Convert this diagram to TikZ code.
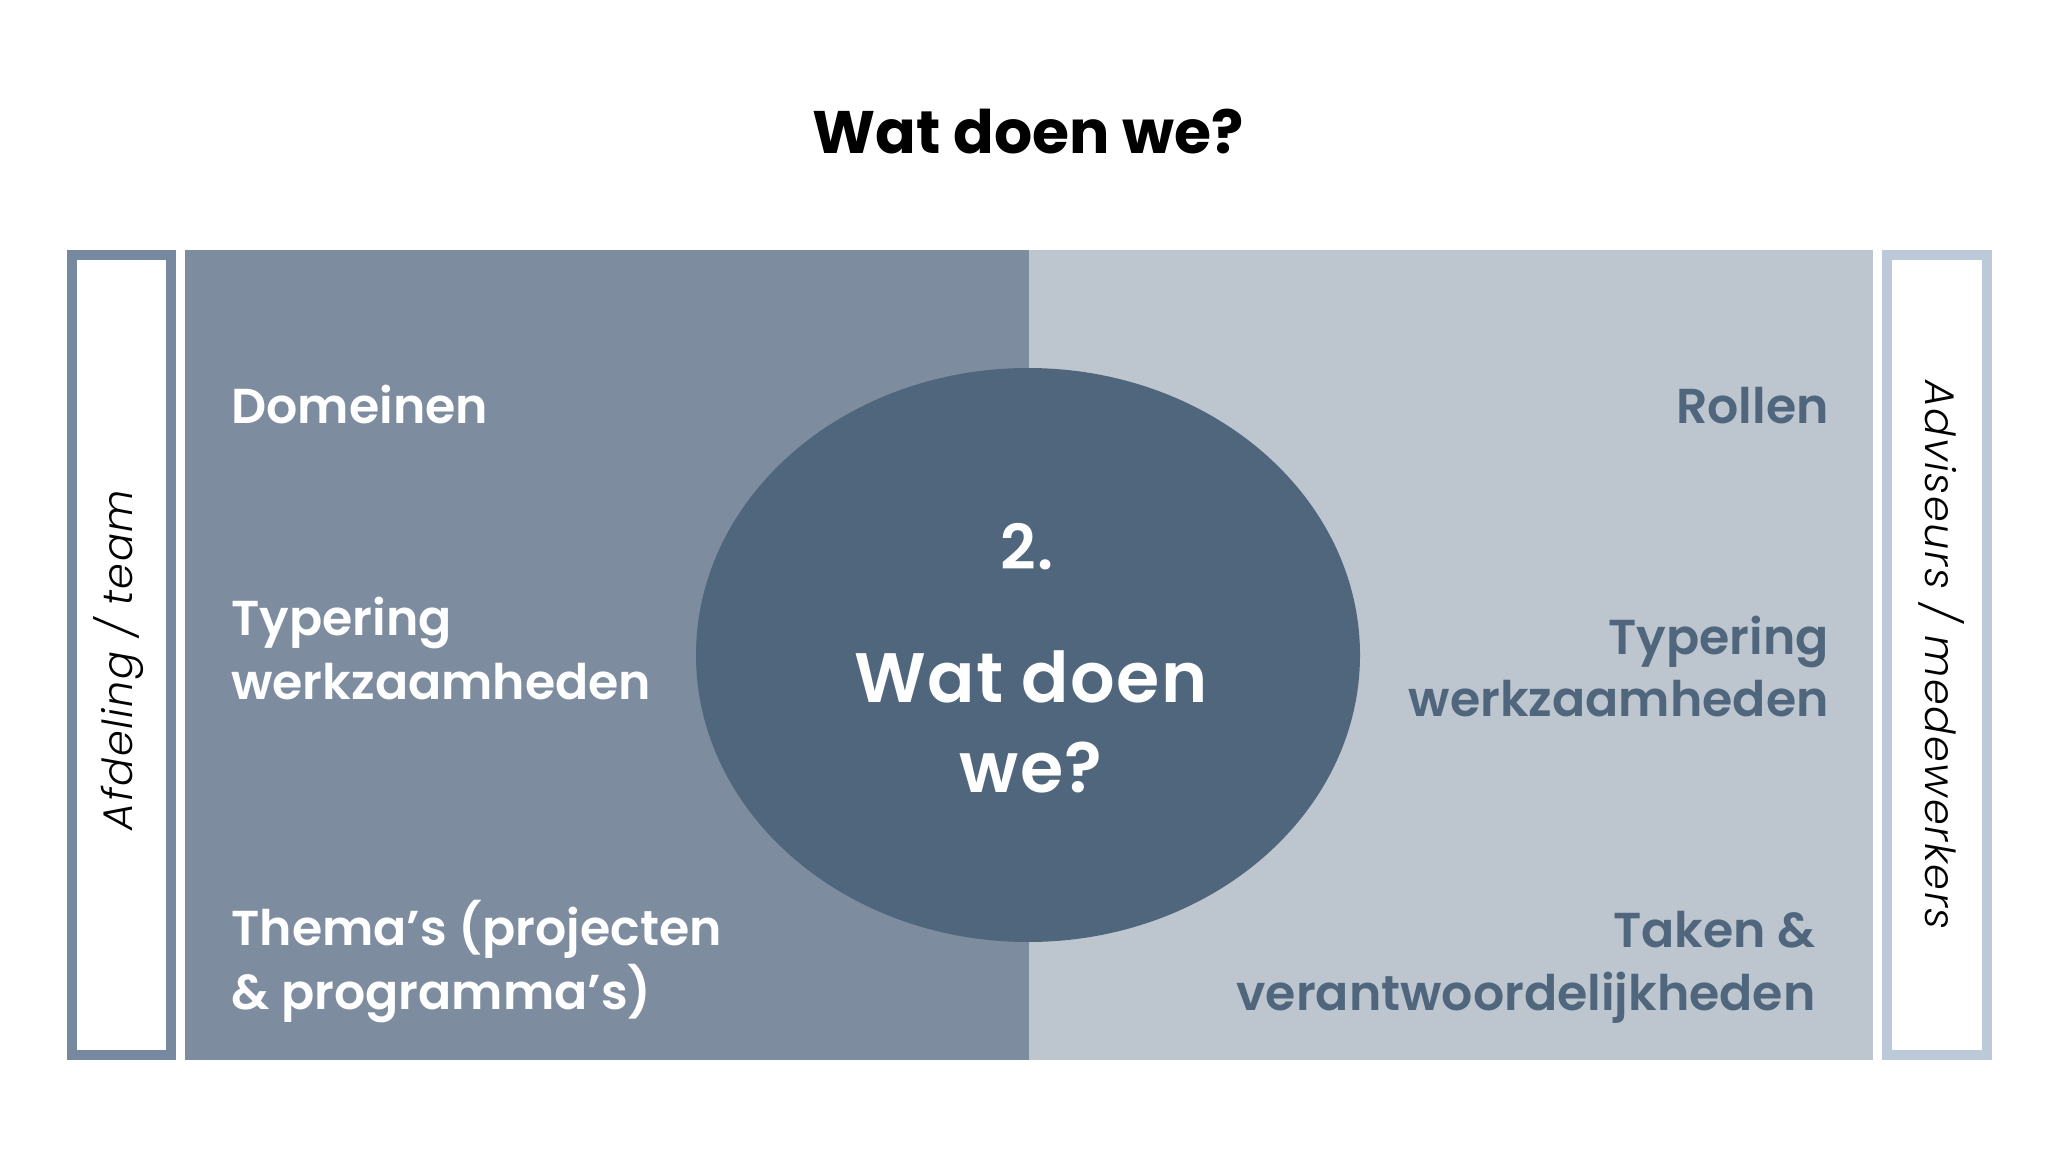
\documentclass[tikz,border=0pt]{standalone}
\usepackage{fontspec}
\setmainfont{Poppins}
\newfontfamily\trk{Poppins SemiBold}
\newfontfamily\trkc{Poppins SemiBold}[LetterSpace=2]
\newfontfamily\vfont{Poppins}[UprightFont=* Light, ItalicFont=* Light Italic, LetterSpace=4]
\definecolor{leftpanel}{HTML}{7D8D9F}
\definecolor{rightpanel}{HTML}{BDC5CE}
\definecolor{circ}{HTML}{4F667D}
\definecolor{leftbox}{HTML}{76899E}
\definecolor{rightbox}{HTML}{BCC9D8}
\begin{document}
\begin{tikzpicture}[x=0.5pt,y=-0.5pt,
  lefttxt/.style={anchor=base west,inner sep=0pt,text=white,font=\trk\fontsize{24.5}{30}\selectfont},
  righttxt/.style={anchor=base east,inner sep=0pt,text=circ,font=\trk\fontsize{24.5}{30}\selectfont},
  circtxt/.style={anchor=base,inner sep=0pt,text=white,font=\trkc\fontsize{35}{40}\selectfont},
  sidetxt/.style={inner sep=0pt,text=black,font=\vfont\itshape\fontsize{20.7}{24}\selectfont}]
\useasboundingbox (0,0) rectangle (2060,1156);
\fill[white] (0,0) rectangle (2060,1156);
% title
\node[anchor=base,inner sep=0pt,font=\bfseries\fontsize{30}{36}\selectfont] (title) at (1028,154) {Wat doen we?};
% side boxes
\draw[leftbox,line width=5pt] (71.7,255) rectangle (171,1055);
\draw[rightbox,line width=5pt] (1887,255) rectangle (1987,1055);
% panels
\fill[leftpanel] (185,250) rectangle (1029,1060);
\fill[rightpanel] (1029,250) rectangle (1873,1060);
% ellipse
\fill[circ] (1028,655) ellipse [x radius=332, y radius=287];
% left texts
\node[lefttxt] (dom) at (231,423) {Domeinen};
\node[lefttxt] (typl1) at (231,635) {Typering};
\node[lefttxt] (typl2) at (231,699) {werkzaamheden};
\node[lefttxt] (thl1) at (231,945) {Thema’s (projecten};
\node[lefttxt] (thl2) at (231,1009) {\& programma’s)};
% right texts
\node[righttxt] (rol) at (1829,423) {Rollen};
\node[righttxt] (typr1) at (1829,654) {Typering};
\node[righttxt] (typr2) at (1829,716) {werkzaamheden};
\node[righttxt] (tak1) at (1816,947) {Taken \&};
\node[righttxt] (tak2) at (1816,1010) {verantwoordelijkheden};
% circle texts
\node[circtxt,font=\trkc\fontsize{31}{36}\selectfont] (num) at (1027,569) {2.};
\node[circtxt] (wat1) at (1031,702) {Wat doen};
\node[circtxt] (wat2) at (1031,792) {we?};
% side texts
\node[sidetxt,rotate=90] (afd) at (119,660) {Afdeling / team};
\node[sidetxt,rotate=-90] (adv) at (1941,655) {Adviseurs / medewerkers};
\end{tikzpicture}
\end{document}
